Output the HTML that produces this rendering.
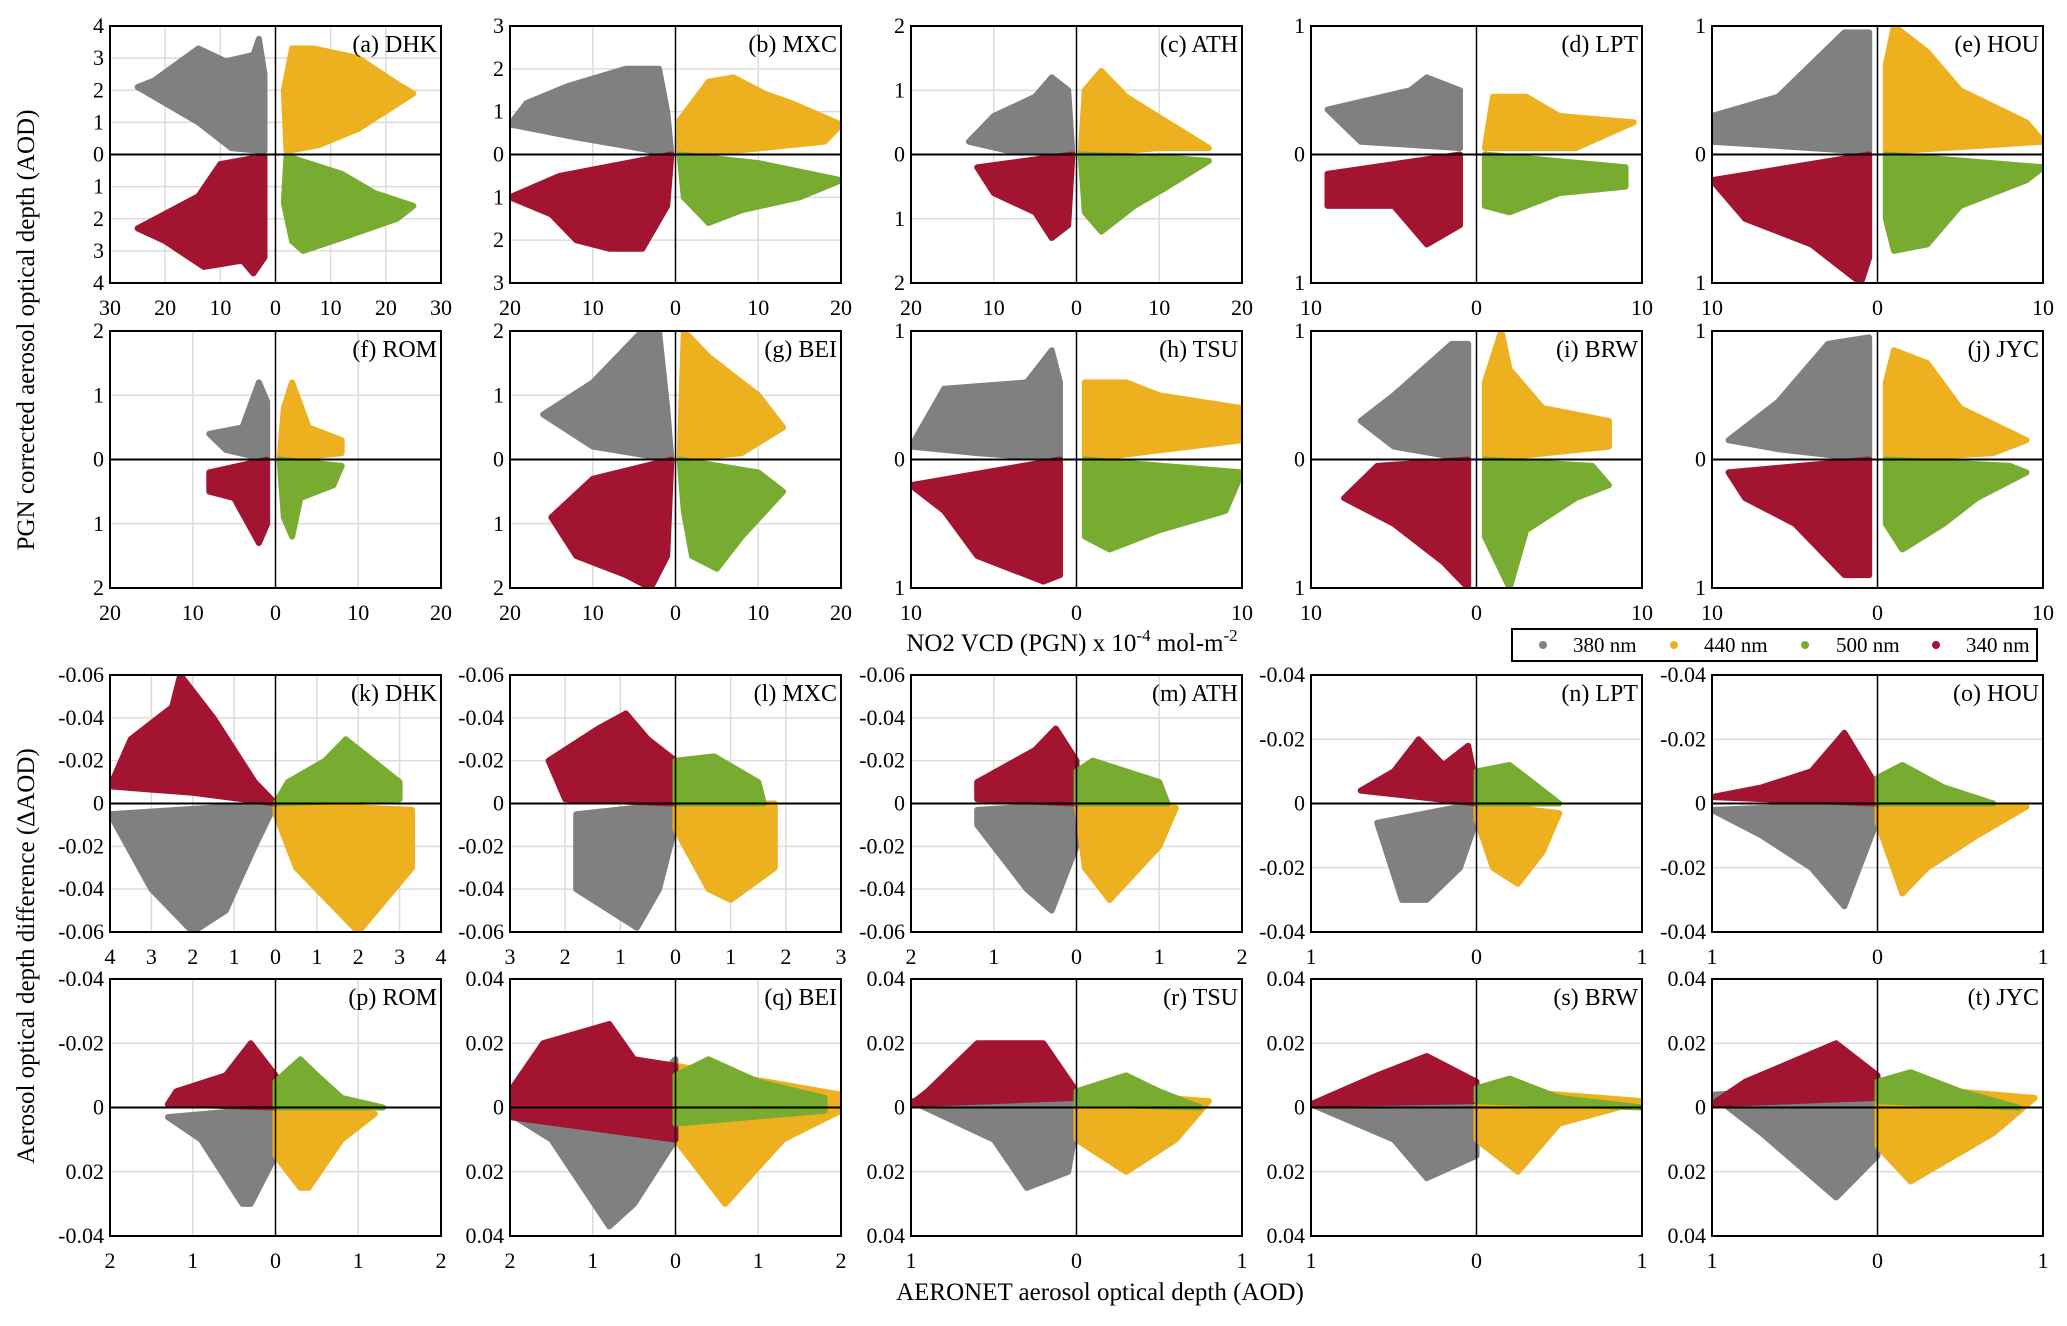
<!DOCTYPE html>
<html><head><meta charset="utf-8"><style>
html,body{margin:0;padding:0;background:#fff;}
svg, svg text{font-family:"Liberation Serif","Times New Roman",Times,serif;}
</style></head><body>
<svg id="fig" width="2067" height="1321" viewBox="0 0 2067 1321" xmlns="http://www.w3.org/2000/svg" font-family="Liberation Serif, Times New Roman, serif">
<text font-family="Liberation Serif, serif" x="0" y="0" transform="translate(34,330) rotate(-90)" text-anchor="middle" font-size="25">PGN corrected aerosol optical depth (AOD)</text>
<text font-family="Liberation Serif, serif" x="0" y="0" transform="translate(34,956) rotate(-90)" text-anchor="middle" font-size="25">Aerosol optical depth difference (ΔAOD)</text>
<text font-family="Liberation Serif, serif" x="1072" y="651" text-anchor="middle" font-size="25">NO2 VCD (PGN) x 10<tspan dy="-10" font-size="17">-4</tspan><tspan dy="10"> mol-m</tspan><tspan dy="-10" font-size="17">-2</tspan></text>
<text font-family="Liberation Serif, serif" x="1100" y="1300" text-anchor="middle" font-size="25">AERONET aerosol optical depth (AOD)</text>
<g>
<rect x="1512" y="629" width="525" height="32" fill="#fff" stroke="#000" stroke-width="2"/>
<circle cx="1543" cy="645" r="4" fill="#808080"/>
<text font-family="Liberation Serif, serif" x="1573" y="652" font-size="21">380 nm</text>
<circle cx="1674" cy="645" r="4" fill="#EDB120"/>
<text font-family="Liberation Serif, serif" x="1704" y="652" font-size="21">440 nm</text>
<circle cx="1805" cy="645" r="4" fill="#77AC30"/>
<text font-family="Liberation Serif, serif" x="1836" y="652" font-size="21">500 nm</text>
<circle cx="1936" cy="645" r="4" fill="#A2142F"/>
<text font-family="Liberation Serif, serif" x="1966" y="652" font-size="21">340 nm</text>
</g>
</svg>
<script>
const panelLabels = ["(a) DHK","(b) MXC","(c) ATH","(d) LPT","(e) HOU","(f) ROM","(g) BEI","(h) TSU","(i) BRW","(j) JYC","(k) DHK","(l) MXC","(m) ATH","(n) LPT","(o) HOU","(p) ROM","(q) BEI","(r) TSU","(s) BRW","(t) JYC"];
const xMax = [30,20,20,10,10,20,20,10,10,10,4,3,2,1,1,2,2,1,1,1];
const yMax = [4,3,2,1,1,2,2,1,1,1,0.06,0.06,0.06,0.04,0.04,0.04,0.04,0.04,0.04,0.04];
const xStep = [10,10,10,10,10,10,10,10,10,10,1,1,1,1,1,1,1,1,1,1];
const yStep = [1,1,1,1,1,1,1,1,1,1,0.02,0.02,0.02,0.02,0.02,0.02,0.02,0.02,0.02,0.02];
const yTickTop = [
["4","3","2","1","0","1","2","3","4"],["3","2","1","0","1","2","3"],["2","1","0","1","2"],["1","0","1"],["1","0","1"],
["2","1","0","1","2"],["2","1","0","1","2"],["1","0","1"],["1","0","1"],["1","0","1"],
["-0.06","-0.04","-0.02","0","-0.02","-0.04","-0.06"],["-0.06","-0.04","-0.02","0","-0.02","-0.04","-0.06"],["-0.06","-0.04","-0.02","0","-0.02","-0.04","-0.06"],
["-0.04","-0.02","0","-0.02","-0.04"],["-0.04","-0.02","0","-0.02","-0.04"],
["-0.04","-0.02","0","0.02","-0.04"],["0.04","0.02","0","0.02","0.04"],["0.04","0.02","0","0.02","0.04"],["0.04","0.02","0","0.02","0.04"],["0.04","0.02","0","0.02","0.04"]];
// cloud outlines [|x|, y-away-from-axis] pairs per wavelength
const clouds380 = [
[2,0.1,8,0.2,14,1.0,25,2.1,22,2.3,14,3.3,9,2.9,4,3.1,3,3.6,2,2.5],
[0.5,0,6,0.2,12,0.4,20,0.7,18,1.2,13,1.6,6,2.0,2,2.0,1,1.0],
[0.5,0,8,0.05,13,0.2,10,0.6,5,0.9,3,1.2,1,1.0],
[1,0.05,7,0.1,9,0.35,4,0.5,3,0.6,1,0.5],
[0.5,0.02,10,0.1,10,0.3,6,0.45,2,0.95,0.5,0.95],
[1,0,6,0.15,8,0.4,4,0.5,2,1.2,1,0.9],
[0.5,0,10,0.2,16,0.7,10,1.2,4,2.0,2,2.0,1,0.8],
[1,0,6,0.05,10,0.1,8,0.55,3,0.6,1.5,0.85,1,0.6],
[0.5,0,5,0.1,7,0.3,5,0.5,1.5,0.9,0.5,0.9],
[0.5,0,6,0.08,9,0.15,6,0.45,3,0.9,0.5,0.95],
[0,0,4,0.005,3,0.04,2,0.06,1.2,0.05,0.5,0.02],
[0,0,1.8,0.005,1.8,0.04,0.7,0.058,0.3,0.04,0,0.01],
[0,0,1.2,0.003,1.2,0.01,0.6,0.04,0.3,0.05,0,0.02],
[0,0,0.6,0.006,0.45,0.03,0.3,0.03,0.1,0.02,0,0.005],
[0,0,1,0.002,0.7,0.01,0.4,0.02,0.2,0.032,0,0.005],
[0,0,1.3,0.003,0.9,0.01,0.4,0.03,0.3,0.03,0,0.015],
[0,-0.015,0.2,-0.01,2,-0.004,2,0.002,1.5,0.01,0.8,0.037,0.5,0.03,0,0.01],
[0,-0.005,1,-0.002,0.5,0.01,0.3,0.025,0.05,0.02,0,0.005],
[0,-0.008,1,-0.001,0.5,0.01,0.3,0.022,0,0.015],
[0,-0.007,1,-0.004,0.7,0.008,0.25,0.028,0,0.015]];
const clouds440 = [
[2,0.1,8,0.3,15,0.8,25,1.9,22,2.2,15,3.0,7,3.3,3,3.3,1.5,2],
[0.5,0,8,0.1,18,0.3,20,0.7,14,1.2,11,1.4,7,1.8,4,1.7,0.5,0.8],
[0.5,0,10,0.1,16,0.1,11,0.5,6,0.9,3,1.3,1,1.0],
[0.5,0.05,6,0.05,9.5,0.25,5,0.3,3,0.45,1,0.45],
[0.5,0.02,10,0.1,9,0.25,5,0.5,3,0.8,1,1.0,0.5,0.7],
[0.5,0,8,0.1,8,0.3,4,0.5,2,1.2,1,0.8],
[0.5,0,8,0.1,13,0.5,10,1.0,4,1.6,1,2.0],
[0.5,0,10,0.15,10,0.4,5,0.5,3,0.6,0.5,0.6],
[0.5,0,8,0.1,8,0.3,4,0.4,2,0.7,1.5,1.0,0.5,0.6],
[0.5,0,7,0.05,9,0.15,5,0.4,3,0.75,1,0.85,0.5,0.6],
[0,0,3.3,0.003,3.3,0.03,2,0.06,1.5,0.05,0.5,0.03,0,0.005],
[0,0,1.8,0,1.8,0.03,1,0.045,0.6,0.04,0,0.012],
[0,0,1.2,0.002,1,0.02,0.4,0.045,0.1,0.03],
[0,0,0.5,0.003,0.4,0.015,0.25,0.025,0.1,0.02,0,0.005],
[0,0,0.9,0.001,0.6,0.01,0.3,0.02,0.15,0.028,0,0.006],
[0,0,1.2,0.002,0.8,0.01,0.4,0.025,0.3,0.025,0,0.015],
[0,-0.013,2,-0.004,2,0.001,1.3,0.01,0.6,0.03,0.3,0.02,0,0.01],
[0,-0.005,0.8,-0.002,0.6,0.01,0.3,0.02,0,0.01],
[0,-0.006,1,-0.002,0.5,0.005,0.25,0.02,0,0.01],
[0,-0.007,0.95,-0.003,0.7,0.008,0.2,0.023,0,0.012]];
const clouds500 = [
[2,0.05,12,0.6,18,1.2,25,1.6,22,2.0,12,2.6,5,3.0,3,2.7,1.5,1.5],
[0.5,0,10,0.2,20,0.6,15,1.0,8,1.3,4,1.6,1,1.0],
[0.5,0,11,0.05,16,0.1,11,0.5,7,0.8,3,1.2,1,0.9],
[0.5,0,9,0.1,9,0.25,5,0.3,2,0.45,0.5,0.4],
[0.5,0,10,0.1,9,0.2,5,0.4,3,0.7,1,0.75,0.5,0.5],
[0.5,0,8,0.1,7,0.4,3,0.6,2,1.2,1,0.9],
[0.5,0,10,0.2,13,0.5,8,1.2,5,1.7,2,1.5,1,0.8],
[0.5,0,10,0.1,9,0.4,5,0.55,2,0.7,0.5,0.6],
[0.5,0,7,0.05,8,0.2,6,0.3,3,0.55,2,1.0,0.5,0.6],
[0.5,0,8,0.05,9,0.1,6,0.3,4,0.5,1.5,0.7,0.5,0.5],
[0,0,3,0.002,3,0.01,1.7,0.03,1.2,0.02,0.3,0.01],
[0,0,1.6,0,1.5,0.01,0.7,0.022,0,0.02],
[0,0,1.1,0,1,0.01,0.2,0.02,0,0.015],
[0,0,0.5,0,0.3,0.008,0.2,0.012,0,0.01],
[0,0,0.7,0,0.4,0.005,0.15,0.012,0,0.008],
[0,0,1.3,0,0.8,0.003,0.5,0.01,0.3,0.015,0,0.008],
[0,-0.005,1.8,-0.001,1.8,0.003,1,0.008,0.4,0.015,0,0.01],
[0,0.001,0.75,0,0.5,0.005,0.3,0.01,0,0.005],
[0,0.002,1,0,0.5,0.003,0.2,0.009,0,0.006],
[0,0.002,0.85,0,0.5,0.005,0.2,0.011,0,0.008]];
const clouds340 = [
[2,0.05,10,0.3,14,1.3,25,2.3,20,2.7,13,3.5,6,3.3,4,3.7,2,3.2],
[0.5,0,14,0.5,20,1.0,15,1.4,12,2.0,8,2.2,4,2.2,1,1.2],
[0.5,0,12,0.2,10,0.6,5,0.9,3,1.3,1,1.1],
[1,0,9,0.15,9,0.4,5,0.4,3,0.7,1,0.55],
[0.5,0,10,0.2,8,0.5,4,0.7,1,1.0,0.5,0.8],
[1,0,8,0.2,8,0.5,5,0.6,2,1.3,1,1.0],
[0.5,0,10,0.3,15,0.9,12,1.5,6,1.8,3,2.0,1,1.5],
[1,0,10,0.2,8,0.4,6,0.75,2,0.95,1,0.9],
[0.5,0,6,0.05,8,0.3,5,0.5,2,0.8,0.5,1.0],
[0.5,0,9,0.1,8,0.3,5,0.5,2,0.9,0.5,0.9],
[0,0,2,0.005,4,0.008,3.5,0.03,2.5,0.045,2.3,0.06,1.5,0.04,0.5,0.01],
[0,0,2,0.002,2.3,0.02,1.4,0.035,0.9,0.042,0.5,0.03,0,0.02],
[0,0,1.2,0.002,1.2,0.01,0.5,0.025,0.25,0.035,0,0.02],
[0,0,0.7,0.004,0.5,0.01,0.35,0.02,0.2,0.012,0.05,0.018,0,0.005],
[0,0,1,0.002,0.7,0.005,0.4,0.01,0.2,0.022,0,0.005],
[0,0,1.3,0.001,1.2,0.005,0.6,0.01,0.3,0.02,0,0.01],
[0,-0.01,2,-0.003,2,0.005,1.6,0.02,0.8,0.026,0.5,0.015,0,0.013],
[0,0.003,1,0.001,0.9,0.005,0.6,0.02,0.2,0.02,0,0.005],
[0,0.002,1,0.001,0.6,0.01,0.3,0.016,0,0.008],
[0,0.003,1,0.001,0.8,0.008,0.25,0.02,0,0.01]];

const colors = {"380":"#808080","440":"#EDB120","500":"#77AC30","340":"#A2142F"};
const lefts = [110,510,911,1311,1712];
const tops = [26,331,675,979];
const W = 331, H = 257;
const FONT = "Liberation Serif, serif";
const NS = "http://www.w3.org/2000/svg";
const svg = document.getElementById('fig');
function mk(tag, attrs, parent){const e=document.createElementNS(NS,tag);for(const k in attrs)e.setAttribute(k,attrs[k]);(parent||svg).appendChild(e);return e;}

for(let p=0;p<20;p++){
  const L=lefts[p%5], T=tops[Math.floor(p/5)];
  const xm=xMax[p], ym=yMax[p];
  const sx=v=>L+W/2+v/xm*W/2;
  const sy=v=>T+H/2-v/ym*H/2;
  const g=mk('g',{});
  
  
  const cp=mk('clipPath',{id:'cp'+p},g);
  mk('rect',{x:L,y:T,width:W,height:H},cp);
  const nx=Math.round(xm/xStep[p]);
  for(let i=-nx+1;i<nx;i++){ if(i===0)continue;
    const gl=mk('line',{x1:sx(i*xStep[p]),x2:sx(i*xStep[p]),y1:T,y2:T+H,stroke:'#dcdcdc','stroke-width':1.5},g);
    
    
  }
  const ny=Math.round(ym/yStep[p]);
  for(let i=-ny+1;i<ny;i++){ if(i===0)continue;
    const gl=mk('line',{x1:L,x2:L+W,y1:sy(i*yStep[p]),y2:sy(i*yStep[p]),stroke:'#dcdcdc','stroke-width':1.5},g);
    
    
  }
  const top2=p<10;
  const quad = top2 ? {"380":[-1,1],"440":[1,1],"340":[-1,-1],"500":[1,-1]} : {"340":[-1,1],"500":[1,1],"380":[-1,-1],"440":[1,-1]};
  const order = ["380","440","340","500"];
  const src={"380":clouds380,"440":clouds440,"500":clouds500,"340":clouds340};
  const cg=mk('g',{'clip-path':'url(#cp'+p+')'},g);
  for(const wl of order){
    const arr=src[wl][p], q=quad[wl];
    const pts=[];
    for(let i=0;i<arr.length;i+=2) pts.push(sx(q[0]*arr[i]).toFixed(1)+','+sy(q[1]*arr[i+1]).toFixed(1));
    const pg=mk('polygon',{points:pts.join(' '),fill:colors[wl],stroke:colors[wl],'stroke-width':6,'stroke-linejoin':'round'},cg);
    
    
  }
  const z1=mk('line',{x1:sx(0),x2:sx(0),y1:T,y2:T+H,stroke:'#000','stroke-width':1.5},g);
  
  
  const z2=mk('line',{x1:L,x2:L+W,y1:sy(0),y2:sy(0),stroke:'#000','stroke-width':2},g);
  
  
  const fr=mk('rect',{x:L,y:T,width:W,height:H,fill:'none',stroke:'#000','stroke-width':2},g);
  
  
  for(let i=-nx;i<=nx;i++){
    const v=Math.abs(i*xStep[p]);
    const t=mk('text',{x:sx(i*xStep[p]),y:T+H+32,'text-anchor':'middle','font-size':22,'font-family':FONT},g);
    t.textContent=String(v);
    
    
  }
  const labs=yTickTop[p];
  for(let i=0;i<labs.length;i++){
    const v=ym-i*yStep[p];
    const t=mk('text',{x:L-6,y:sy(v)+7,'text-anchor':'end','font-size':22,'font-family':FONT},g);
    t.textContent=labs[i];
    
    
  }
  const pl=mk('text',{x:L+W-4,y:T+26,'text-anchor':'end','font-size':24,'font-family':FONT},g);
  pl.textContent=panelLabels[p];
  
  
}
</script>
</body></html>
